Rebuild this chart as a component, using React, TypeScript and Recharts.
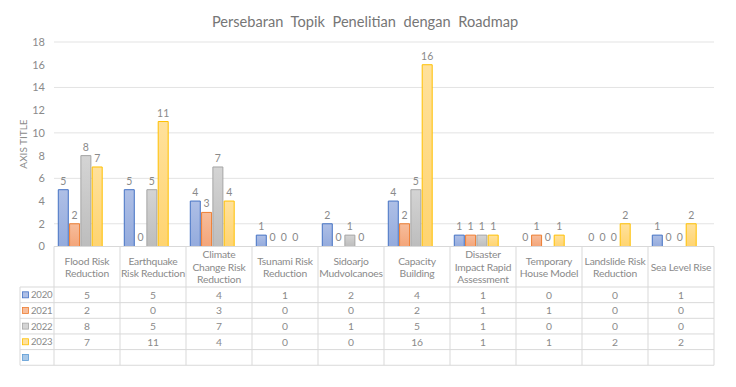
import React from "react";
import {
  Bar,
  BarChart,
  CartesianGrid,
  LabelList,
  Rectangle,
  XAxis,
  YAxis,
} from "recharts";

const categories = [
  "Flood Risk Reduction",
  "Earthquake Risk Reduction",
  "Climate Change Risk Reduction",
  "Tsunami Risk Reduction",
  "Sidoarjo Mudvolcanoes",
  "Capacity Building",
  "Disaster Impact Rapid Assessment",
  "Temporary House Model",
  "Landslide Risk Reduction",
  "Sea Level Rise",
];

// how the category names wrap in the table header
const headerLines = [
  ["Flood Risk", "Reduction"],
  ["Earthquake", "Risk Reduction"],
  ["Climate", "Change Risk", "Reduction"],
  ["Tsunami Risk", "Reduction"],
  ["Sidoarjo", "Mudvolcanoes"],
  ["Capacity", "Building"],
  ["Disaster", "Impact Rapid", "Assessment"],
  ["Temporary", "House Model"],
  ["Landslide Risk", "Reduction"],
  ["Sea Level Rise"],
];

const years = ["2020", "2021", "2022", "2023", ""];
const v2020 = [5, 5, 4, 1, 2, 4, 1, 0, 0, 1];
const v2021 = [2, 0, 3, 0, 0, 2, 1, 1, 0, 0];
const v2022 = [8, 5, 7, 0, 1, 5, 1, 0, 0, 0];
const v2023 = [7, 11, 4, 0, 0, 16, 1, 1, 2, 2];
const yTicks = [0, 2, 4, 6, 8, 10, 12, 14, 16, 18];

const seriesValues: (number[] | null)[] = [v2020, v2021, v2022, v2023, null];
const keys = ["y2020", "y2021", "y2022", "y2023", "y2024"];

const colors = [
  { stroke: "#4472c4", top: "#aebfe6", bottom: "#94abdd" },
  { stroke: "#ed7d31", top: "#f7bd9b", bottom: "#f3a57a" },
  { stroke: "#a5a5a5", top: "#d4d4d4", bottom: "#bdbdbd" },
  { stroke: "#ffc000", top: "#ffe19c", bottom: "#ffd470" },
  { stroke: "#5b9bd5", top: "#a8c8e8", bottom: "#8fb9e2" },
];

const data = categories.map((name, i) => {
  const row: Record<string, string | number> = { name };
  seriesValues.forEach((vals, s) => {
    if (vals) row[keys[s]] = vals[i];
  });
  return row;
});

const W = 736;
const H = 387;
const LEFT = 54;
const RIGHT = 714;
const TOP = 42;
const AXIS_Y = 246.5;
const COL_W = (RIGHT - LEFT) / categories.length;
const HEADER_H = 40.5;
const ROW_H = 15.65;
const LEGEND_X = 20;
const GRID = "#d9d9d9";
const TEXT = "#8a8a8a";
const FONT = "Lato, 'Open Sans', sans-serif";

// zero values get a hairline bar so their label shows, but nothing is drawn
function BarShape(props: any) {
  if (!props.height || Math.abs(props.height) < 0.5) return <g />;
  return <Rectangle {...props} />;
}

function TableTick(props: any) {
  const { x, payload } = props;
  const i: number = payload?.index ?? props.index ?? 0;
  const left = x - COL_W / 2;
  const right = x + COL_W / 2;
  const bottom = AXIS_Y + HEADER_H + ROW_H * years.length;
  const lines = headerLines[i] || [];
  const lh = 12.5;
  const headMid = AXIS_Y + HEADER_H / 2;
  const firstY = headMid - ((lines.length - 1) * lh) / 2;

  return (
    <g fontFamily={FONT} fontSize={10.3} fill={TEXT} letterSpacing={-0.2}>
      <line x1={left} x2={left} y1={AXIS_Y} y2={bottom} stroke={GRID} />
      {i === categories.length - 1 && (
        <line x1={right} x2={right} y1={AXIS_Y} y2={bottom} stroke={GRID} />
      )}
      {lines.map((t, k) => (
        <text key={k} x={x} y={firstY + k * lh} textAnchor="middle" dominantBaseline="central">
          {t}
        </text>
      ))}
      {years.map((_, r) => {
        const rowTop = AXIS_Y + HEADER_H + r * ROW_H;
        const vals = seriesValues[r];
        return (
          <g key={r}>
            <line x1={left} x2={right} y1={rowTop} y2={rowTop} stroke={GRID} />
            {vals && (
              <text x={x} y={rowTop + ROW_H / 2} textAnchor="middle" dominantBaseline="central">
                {vals[i]}
              </text>
            )}
          </g>
        );
      })}
      <line x1={left} x2={right} y1={bottom} y2={bottom} stroke={GRID} />
      {i === 0 && (
        <g>
          <line x1={LEGEND_X} x2={LEGEND_X} y1={AXIS_Y + HEADER_H} y2={bottom} stroke={GRID} />
          {years.map((yr, r) => {
            const rowTop = AXIS_Y + HEADER_H + r * ROW_H;
            const c = colors[r];
            return (
              <g key={r}>
                <line x1={LEGEND_X} x2={left} y1={rowTop} y2={rowTop} stroke={GRID} />
                <rect
                  x={LEGEND_X + 2.5}
                  y={rowTop + ROW_H / 2 - 3}
                  width={6}
                  height={6}
                  fill={c.top}
                  stroke={c.stroke}
                  strokeWidth={0.8}
                />
                <text
                  x={LEGEND_X + 11}
                  y={rowTop + ROW_H / 2}
                  dominantBaseline="central"
                  fontSize={9.6}
                >
                  {yr}
                </text>
              </g>
            );
          })}
          <line x1={LEGEND_X} x2={left} y1={bottom} y2={bottom} stroke={GRID} />
        </g>
      )}
    </g>
  );
}

export default function App() {
  return (
    <div style={{ position: "absolute", left: 0, top: 0, width: W, height: H, background: "#fff" }}>
      <BarChart
        width={W}
        height={H}
        data={data}
        margin={{ top: TOP, right: W - RIGHT, bottom: 20.5, left: 0 }}
        barCategoryGap="6.5%"
        barGap={1.3}
      >
        <defs>
          {colors.map((c, s) => (
            <linearGradient key={s} id={`fill${s}`} x1="0" y1="0" x2="0" y2="1">
              <stop offset="0%" stopColor={c.top} />
              <stop offset="100%" stopColor={c.bottom} />
            </linearGradient>
          ))}
        </defs>
        <CartesianGrid vertical={false} stroke="#e3e3e3" />
        <XAxis
          dataKey="name"
          interval={0}
          height={120}
          tickLine={false}
          tickSize={0}
          tickMargin={0}
          axisLine={{ stroke: GRID }}
          tick={<TableTick />}
        />
        <YAxis
          width={LEFT}
          domain={[0, 18]}
          ticks={yTicks}
          axisLine={false}
          tickLine={false}
          tickSize={0}
          tickMargin={9}
          tick={{ fill: TEXT, fontSize: 11, fontFamily: FONT }}
        />
        {keys.map((k, s) => (
          <Bar
            key={k}
            dataKey={k}
            fill={`url(#fill${s})`}
            stroke={colors[s].stroke}
            strokeWidth={1}
            minPointSize={seriesValues[s] ? 0.1 : 0}
            shape={<BarShape />}
            isAnimationActive={false}
          >
            <LabelList
              dataKey={k}
              position="top"
              offset={5}
              fill={TEXT}
              fontSize={10.5}
              fontFamily={FONT}
            />
          </Bar>
        ))}
      </BarChart>
      <svg
        width={W}
        height={H}
        style={{ position: "absolute", left: 0, top: 0, pointerEvents: "none" }}
      >
        <text
          x={365}
          y={27}
          textAnchor="middle"
          fontFamily={FONT}
          fontSize={14.6}
          fill="#767676"
          wordSpacing={4}
        >
          Persebaran Topik Penelitian dengan Roadmap
        </text>
        <text
          x={0}
          y={0}
          transform="translate(23 144) rotate(-90)"
          textAnchor="middle"
          dominantBaseline="central"
          fontFamily={FONT}
          fontSize={10}
          fill={TEXT}
        >
          AXIS TITLE
        </text>
      </svg>
    </div>
  );
}
